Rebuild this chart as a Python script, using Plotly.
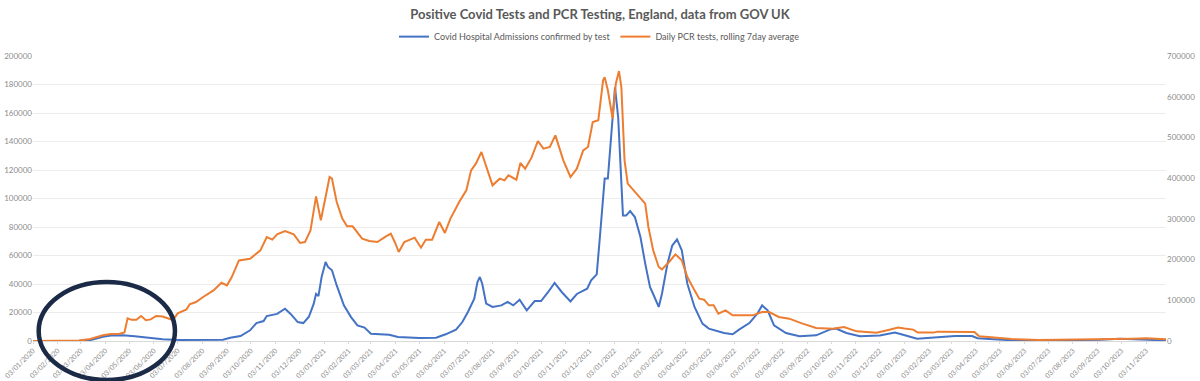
import plotly.graph_objects as go

# ---- Data ----
blue_name = "Covid Hospital Admissions confirmed by test"
orange_name = "Daily PCR tests, rolling 7day average"

blue_dates = [
    "2020-01-03", "2020-02-01", "2020-03-01", "2020-03-15", "2020-03-31", "2020-04-10", "2020-04-25",
    "2020-05-10", "2020-05-28", "2020-06-14", "2020-07-05", "2020-07-26", "2020-08-29", "2020-09-07",
    "2020-09-20", "2020-10-02", "2020-10-10", "2020-10-19", "2020-10-23", "2020-11-05", "2020-11-15",
    "2020-11-22", "2020-12-01", "2020-12-08", "2020-12-15", "2020-12-21", "2020-12-24", "2020-12-27",
    "2020-12-31", "2021-01-05", "2021-01-08", "2021-01-13", "2021-01-19", "2021-01-28", "2021-02-06",
    "2021-02-14", "2021-02-23", "2021-03-03", "2021-03-26", "2021-04-06", "2021-05-03", "2021-05-24",
    "2021-06-05", "2021-06-18", "2021-06-26", "2021-07-03", "2021-07-11", "2021-07-15", "2021-07-18",
    "2021-07-21", "2021-07-26", "2021-08-03", "2021-08-14", "2021-08-22", "2021-08-29", "2021-09-06",
    "2021-09-15", "2021-09-25", "2021-10-03", "2021-10-12", "2021-10-20", "2021-10-29", "2021-11-09",
    "2021-11-17", "2021-11-30", "2021-12-05", "2021-12-12", "2021-12-16", "2021-12-22", "2021-12-26",
    "2021-12-31", "2022-01-04", "2022-01-08", "2022-01-12", "2022-01-14", "2022-01-18", "2022-01-23",
    "2022-01-29", "2022-02-05", "2022-02-11", "2022-02-17", "2022-02-21", "2022-02-28", "2022-03-04",
    "2022-03-11", "2022-03-17", "2022-03-23", "2022-03-29", "2022-04-05", "2022-04-14", "2022-04-24",
    "2022-05-02", "2022-05-10", "2022-05-21", "2022-06-01", "2022-06-09", "2022-06-22", "2022-07-02",
    "2022-07-08", "2022-07-15", "2022-07-23", "2022-08-07", "2022-08-24", "2022-09-14", "2022-10-01",
    "2022-10-09", "2022-10-22", "2022-11-08", "2022-12-03", "2022-12-11", "2022-12-22", "2022-12-30",
    "2023-01-06", "2023-01-19", "2023-02-05", "2023-02-26", "2023-03-08", "2023-03-29", "2023-04-05",
    "2023-04-20", "2023-05-18", "2023-06-30", "2023-08-11", "2023-09-06", "2023-10-01", "2023-10-26",
    "2023-11-12", "2023-11-28",
]
blue_values = [
    0, 20, 100, 600, 3000, 3900, 4000,
    3300, 2200, 1300, 700, 600, 900, 2300,
    3500, 7500, 12600, 14000, 17500, 19000, 22700,
    19000, 13300, 12600, 17000, 26000, 33000, 31500,
    45000, 55400, 52000, 49600, 39000, 25000, 16800,
    11000, 9400, 5100, 4400, 2800, 2100, 2300,
    4700, 8000, 13300, 20400, 29700, 41400, 44900,
    40200, 26200, 23900, 25000, 27400, 25000, 29000,
    21500, 28000, 28000, 34400, 40700, 34400, 27800,
    33000, 36700, 42600, 46800, 73000, 114000, 114000,
    150000, 178000, 157000, 110000, 88000, 88000, 91200,
    87000, 73000, 54300, 37900, 33000, 23900, 33000,
    54300, 67000, 71300, 63600, 40200, 23900, 12200,
    8700, 7500, 5600, 4700, 8000, 12600, 19200,
    25000, 21500, 11000, 5600, 3300, 4000, 8000,
    8700, 5600, 3300, 3800, 4700, 6000, 4700,
    3500, 1650, 2350, 3050, 3500, 3500, 1900,
    1400, 500, 250, 500, 940, 1650, 940,
    500, 400,
]

orange_dates = [
    "2020-01-03", "2020-02-01", "2020-03-01", "2020-03-15", "2020-03-31", "2020-04-10", "2020-04-21",
    "2020-04-27", "2020-05-01", "2020-05-06", "2020-05-12", "2020-05-18", "2020-05-24", "2020-05-30",
    "2020-06-06", "2020-06-14", "2020-06-22", "2020-06-27", "2020-07-03", "2020-07-14", "2020-07-18",
    "2020-07-26", "2020-08-04", "2020-08-17", "2020-08-27", "2020-09-03", "2020-09-09", "2020-09-18",
    "2020-10-02", "2020-10-15", "2020-10-23", "2020-10-30", "2020-11-05", "2020-11-15", "2020-11-26",
    "2020-12-04", "2020-12-10", "2020-12-17", "2020-12-24", "2020-12-30", "2021-01-05", "2021-01-10",
    "2021-01-13", "2021-01-19", "2021-01-26", "2021-02-01", "2021-02-08", "2021-02-14", "2021-02-20",
    "2021-03-01", "2021-03-11", "2021-03-22", "2021-03-28", "2021-04-02", "2021-04-07", "2021-04-14",
    "2021-04-27", "2021-05-05", "2021-05-11", "2021-05-19", "2021-05-28", "2021-06-04", "2021-06-11",
    "2021-06-22", "2021-07-01", "2021-07-07", "2021-07-13", "2021-07-20", "2021-07-26", "2021-08-03",
    "2021-08-12", "2021-08-18", "2021-08-23", "2021-09-02", "2021-09-07", "2021-09-13", "2021-09-21",
    "2021-09-29", "2021-10-06", "2021-10-14", "2021-10-21", "2021-10-31", "2021-11-09", "2021-11-17",
    "2021-11-25", "2021-12-01", "2021-12-07", "2021-12-14", "2021-12-20", "2021-12-22", "2021-12-26",
    "2022-01-01", "2022-01-05", "2022-01-09", "2022-01-12", "2022-01-16", "2022-01-20", "2022-01-27",
    "2022-02-05", "2022-02-11", "2022-02-15", "2022-02-21", "2022-02-28", "2022-03-04", "2022-03-13",
    "2022-03-21", "2022-03-29", "2022-04-05", "2022-04-14", "2022-04-20", "2022-04-26", "2022-05-02",
    "2022-05-08", "2022-05-14", "2022-05-23", "2022-06-01", "2022-06-13", "2022-06-26", "2022-07-08",
    "2022-07-17", "2022-07-29", "2022-08-11", "2022-08-28", "2022-09-14", "2022-10-05", "2022-10-19",
    "2022-11-04", "2022-11-29", "2022-12-15", "2022-12-26", "2023-01-03", "2023-01-14", "2023-01-20",
    "2023-02-09", "2023-02-13", "2023-03-08", "2023-04-01", "2023-04-07", "2023-04-24", "2023-05-18",
    "2023-06-21", "2023-08-02", "2023-09-01", "2023-09-22", "2023-10-17", "2023-11-03", "2023-11-16",
    "2023-11-28",
]
orange_values = [
    0, 100, 1000, 5000, 14000, 17000, 18000,
    21000, 55500, 52000, 52000, 61200, 51000, 53000,
    61500, 60000, 55000, 51400, 67800, 77600, 90000,
    95800, 108000, 124400, 143000, 136700, 157000, 198000,
    202000, 222700, 255400, 249000, 262000, 270000, 262000,
    240700, 243000, 271800, 355300, 296400, 353700, 402800,
    398700, 341400, 300500, 281600, 281600, 267700, 251300,
    245600, 243200, 257000, 263600, 243200, 218600, 243200,
    253800, 229200, 248900, 248900, 292300, 265300, 300500,
    341400, 370000, 419200, 435500, 464200, 427400, 382300,
    398700, 394600, 406900, 396200, 437200, 423300, 450300,
    491200, 472400, 476500, 505100, 443700, 402800, 423300,
    468300, 476500, 537900, 542000, 640200, 648000, 615700,
    546000, 632000, 663000, 623900, 443700, 386500, 370000,
    349600, 337300, 280000, 222700, 181800, 176000, 194000,
    212800, 198000, 157000, 124400, 104000, 101500, 87600,
    87600, 67100, 75300, 63000, 63000, 63000, 71200,
    71200, 59000, 54900, 42600, 31900, 30300, 34400,
    23700, 20500, 27800, 33000, 30500, 28000, 20600,
    20600, 23000, 22200, 22200, 11500, 8200, 4900,
    2500, 3300, 3300, 4900, 5800, 6600, 4900,
    4100,
]

title_text = "Positive Covid Tests and PCR Testing, England, data from GOV UK"
left_ticks = [0, 20000, 40000, 60000, 80000, 100000, 120000, 140000, 160000, 180000, 200000]
right_ticks = [0, 100000, 200000, 300000, 400000, 500000, 600000, 700000]

FONT = "Lato, Liberation Sans, sans-serif"
GREY = "#595959"
TICK_GREY = "#8c8c8c"

fig = go.Figure()
fig.add_trace(go.Scatter(
    x=blue_dates, y=blue_values, name=blue_name, mode="lines",
    line=dict(color="#4472C4", width=2), yaxis="y",
))
fig.add_trace(go.Scatter(
    x=orange_dates, y=orange_values, name=orange_name, mode="lines",
    line=dict(color="#ED7D31", width=2), yaxis="y2",
))

fig.update_layout(
    width=1200, height=381,
    margin=dict(l=33, r=34, t=56, b=40, autoexpand=False),
    paper_bgcolor="white", plot_bgcolor="white",
    font=dict(family=FONT, color=GREY, size=10),
    title=dict(text=title_text, x=0.5, xanchor="center", y=0.962, yanchor="middle",
               font=dict(family=FONT, size=13, color=GREY, weight="bold")),
    legend=dict(orientation="h", x=0.5, xanchor="center", y=1.068, yanchor="middle",
                font=dict(family=FONT, size=9, color=GREY), bgcolor="rgba(0,0,0,0)",
                itemwidth=30, tracegroupgap=0),
    showlegend=True,
    xaxis=dict(
        type="date", range=["2020-01-03", "2023-11-28"], automargin=False,
        tick0="2020-01-03", dtick="M1", tickformat="%d/%m/%Y", tickangle=-45,
        tickfont=dict(family=FONT, size=7, color=TICK_GREY),
        showgrid=False, showline=True, linecolor="#d9d9d9", linewidth=1,
        ticks="outside", ticklen=2, tickcolor="#d9d9d9", zeroline=False,
    ),
    yaxis=dict(
        range=[0, 200000], tickvals=left_ticks, ticktext=[str(v) for v in left_ticks],
        tickfont=dict(family=FONT, size=8, color=TICK_GREY), automargin=False,
        showgrid=True, gridcolor="#ececec", gridwidth=1, zeroline=False,
        showline=False, ticks="",
    ),
    yaxis2=dict(
        range=[0, 700000], tickvals=right_ticks, ticktext=[str(v) for v in right_ticks],
        tickfont=dict(family=FONT, size=8, color=TICK_GREY), automargin=False,
        overlaying="y", side="right", showgrid=False, zeroline=False,
        showline=False, ticks="",
    ),
    shapes=[dict(
        type="circle", xref="paper", yref="paper",
        x0=0.005, x1=0.1253, y0=-0.137, y1=0.2068,
        line=dict(color="#1b2a47", width=4.5), layer="above",
    )],
)

fig.write_html(
    "out.html",
    config={"displayModeBar": False},
    post_script="document.body.style.margin='0';document.body.style.overflow='hidden';",
)
